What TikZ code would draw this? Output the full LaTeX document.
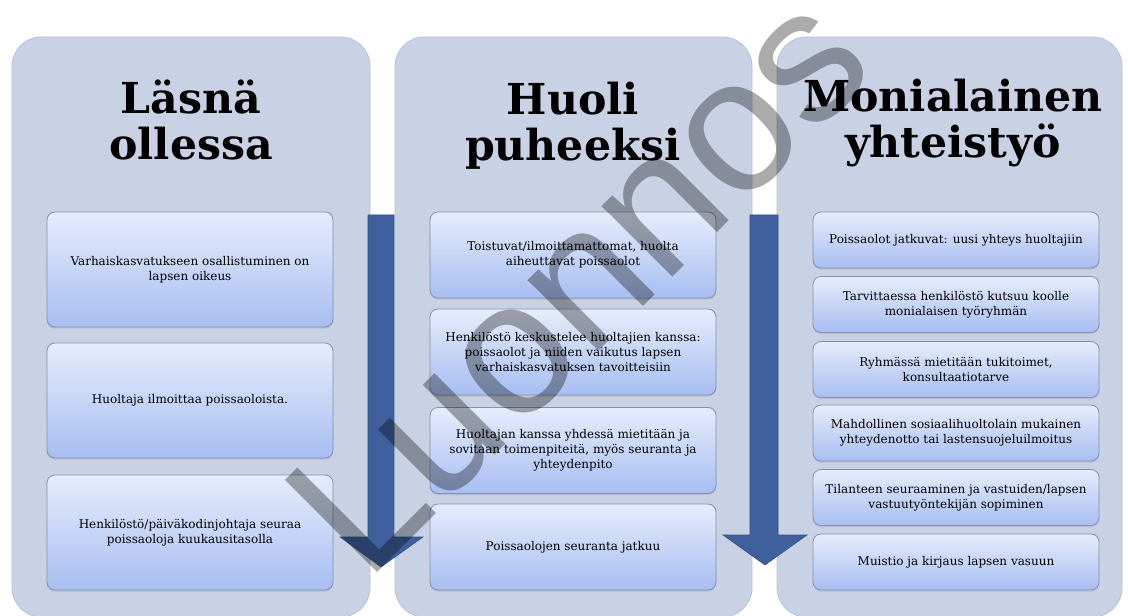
\documentclass[tikz,border=0pt]{standalone}
\usepackage{fontspec}
\setmainfont{DejaVu Serif}
\newfontfamily\markfont{Liberation Sans}
\usetikzlibrary{shadows}

\definecolor{colbg}{HTML}{C9D1E5}
\definecolor{colrim}{HTML}{BAC2D6}
\definecolor{boxtop}{HTML}{E6ECFB}
\definecolor{boxbot}{HTML}{A7BEF2}
\definecolor{boxrim}{HTML}{8592AD}
\definecolor{arrowblue}{HTML}{3F5F9D}

\tikzset{
  column/.style={fill=colbg, draw=colrim, line width=0.6pt, rounded corners=22pt},
  head/.style={font=\bfseries\fontsize{32}{34.5}\selectfont, align=center, inner sep=0pt},
  stepbox/.style={draw=boxrim, line width=0.6pt, rounded corners=6pt,
    top color=boxtop, bottom color=boxbot, minimum width=214.5pt,
    align=center, inner sep=2pt, text=black,
    font=\fontsize{9}{11.25}\selectfont,
    drop shadow={shadow xshift=0pt, shadow yshift=-1.2pt, opacity=0.25}},
  flow/.style={fill=arrowblue, draw=arrowblue!85!black, line width=0.4pt},
  watermark/.style={font=\markfont\fontsize{142}{142}\selectfont,
    text=black, text opacity=0.33, inner sep=0pt}
}

\begin{document}
\begin{tikzpicture}[x=0.75pt, y=-0.75pt]

\newcommand\HA{86.25pt}
\newcommand\HB{64.5pt}
\newcommand\HC{42pt}

\useasboundingbox[fill=white] (0,0) rectangle (1128,616);

% columns
\draw[column] (12,37) rectangle (370,617);   % left
\draw[column] (395,37) rectangle (752,617);  % middle
\draw[column] (777,37) rectangle (1122,617); % right

% headings (base = last line)
\node[head, anchor=base] (h1) at (191,160) {Läsnä\\ollessa};
\node[head, anchor=base] (h2) at (573,161) {Huoli\\puheeksi};
\node[head, anchor=base] (h3) at (953,158) {Monialainen\\yhteistyö};

% flow arrows
\draw[flow] (368,215) -- (368,537) -- (340,537) -- (381,567)
  -- (423,537) -- (394,537) -- (394,215) -- cycle; % left
\draw[flow] (750,215) -- (750,535) -- (723,535) -- (765,565)
  -- (807,535) -- (778,535) -- (778,215) -- cycle; % right

% left column
\node[stepbox, minimum height=\HA] (a1) at (190,269.5) {Varhaiskasvatukseen osallistuminen on\\lapsen oikeus};
\node[stepbox, minimum height=\HA] (a2) at (190,400.5) {Huoltaja ilmoittaa poissaoloista.};
\node[stepbox, minimum height=\HA] (a3) at (190,532.5) {Henkilöstö/päiväkodinjohtaja seuraa\\poissaoloja kuukausitasolla};

% middle column
\node[stepbox, minimum height=\HB] (b1) at (573,255) {Toistuvat/ilmoittamattomat, huolta\\aiheuttavat poissaolot};
\node[stepbox, minimum height=\HB] (b2) at (573,352) {Henkilöstö keskustelee huoltajien kanssa:\\poissaolot ja niiden vaikutus lapsen\\varhaiskasvatuksen tavoitteisiin};
\node[stepbox, minimum height=\HB] (b3) at (573,450.5) {Huoltajan kanssa yhdessä mietitään ja\\sovitaan toimenpiteitä, myös seuranta ja\\yhteydenpito};
\node[stepbox, minimum height=\HB] (b4) at (573,547) {Poissaolojen seuranta jatkuu};

% right column
\node[stepbox, minimum height=\HC] (c1) at (956,240) {Poissaolot jatkuvat: uusi yhteys huoltajiin};
\node[stepbox, minimum height=\HC] (c2) at (956,304.5) {Tarvittaessa henkilöstö kutsuu koolle\\monialaisen työryhmän};
\node[stepbox, minimum height=\HC] (c3) at (956,369.5) {Ryhmässä mietitään tukitoimet,\\konsultaatiotarve};
\node[stepbox, minimum height=\HC] (c4) at (956,433) {Mahdollinen sosiaalihuoltolain mukainen\\yhteydenotto tai lastensuojeluilmoitus};
\node[stepbox, minimum height=\HC] (c5) at (956,497.5) {Tilanteen seuraaminen ja vastuiden/lapsen\\vastuutyöntekijän sopiminen};
\node[stepbox, minimum height=\HC] (c6) at (956,562) {Muistio ja kirjaus lapsen vasuun};

% watermark
\node[watermark, rotate=45, anchor=base west] (mark) at (366,584) {Luonnos};

\end{tikzpicture}
\end{document}
